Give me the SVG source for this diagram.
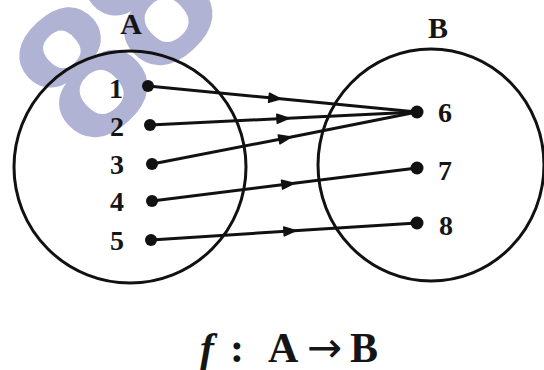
<svg xmlns="http://www.w3.org/2000/svg" width="544" height="370" viewBox="0 0 544 370">
  <defs>
    <style>
      .set { fill: none; stroke: #111; stroke-width: 3; }
      .lbl { font-family: "Liberation Serif", "DejaVu Serif", serif; font-weight: bold; fill: #151515; }
      .num { font-size: 28px; text-anchor: middle; }
      .setlbl { font-size: 30px; text-anchor: middle; }
      .dot { fill: #111; }
      .conn { fill: none; stroke: #111; stroke-width: 3; marker-mid: url(#mid); }
      .wm { font-family: "Liberation Sans", Arial, sans-serif; font-weight: bold; font-size: 190px; fill: #b1b3d4; text-anchor: middle; }
    </style>
    <marker id="mid" viewBox="-8 -6 16 12" markerWidth="16" markerHeight="12" refX="0" refY="0" orient="auto" markerUnits="userSpaceOnUse">
      <path d="M-6,-4.5 L6,0 L-6,4.5 Z" fill="#111" stroke="#111" stroke-width="1.5" stroke-linejoin="round"/>
    </marker>
  </defs>
  <rect width="544" height="370" fill="#fff"/>

  <g id="watermark">
    <text class="wm" x="81" y="138" transform="rotate(-43 81 70)">8</text>
    <text class="wm" x="146" y="66" transform="rotate(-43 146 -2)">8</text>
  </g>

  <g id="setA">
    <circle class="set" cx="130" cy="167" r="116"/>
    <text class="lbl setlbl" x="131" y="34">A</text>
  </g>
  <g id="setB">
    <ellipse class="set" cx="431" cy="165" rx="113" ry="116"/>
    <text class="lbl setlbl" x="438" y="38">B</text>
  </g>

  <g id="connectors">
    <path class="conn" d="M148,86 L275,98.3 L417,112"/>
    <path class="conn" d="M150,125 L283,118.5 L417,112"/>
    <path class="conn" d="M152,164 L285,138.2 L417,112"/>
    <path class="conn" d="M152,201 L288,184 L417,168"/>
    <path class="conn" d="M151,240 L290,231 L417,223"/>
  </g>

  <g id="a1"><circle class="dot" cx="148" cy="86" r="6"/><text class="lbl num" x="116" y="98">1</text></g>
  <g id="a2"><circle class="dot" cx="150" cy="125" r="6"/><text class="lbl num" x="117" y="136">2</text></g>
  <g id="a3"><circle class="dot" cx="152" cy="164" r="6"/><text class="lbl num" x="117" y="174">3</text></g>
  <g id="a4"><circle class="dot" cx="152" cy="201" r="6"/><text class="lbl num" x="117" y="211">4</text></g>
  <g id="a5"><circle class="dot" cx="151" cy="240" r="6"/><text class="lbl num" x="117" y="250">5</text></g>

  <g id="b6"><circle class="dot" cx="417" cy="112" r="6.5"/><text class="lbl num" x="445" y="122">6</text></g>
  <g id="b7"><circle class="dot" cx="417" cy="168" r="6.5"/><text class="lbl num" x="445" y="180">7</text></g>
  <g id="b8"><circle class="dot" cx="417" cy="223" r="6.5"/><text class="lbl num" x="446" y="235">8</text></g>

  <g id="caption">
    <text class="lbl" font-size="42" y="362"><tspan x="200" font-style="italic">f</tspan><tspan x="230">:</tspan><tspan x="268">A</tspan><tspan x="307" font-family="DejaVu Sans" font-weight="normal">→</tspan><tspan x="350">B</tspan></text>
  </g>
</svg>
